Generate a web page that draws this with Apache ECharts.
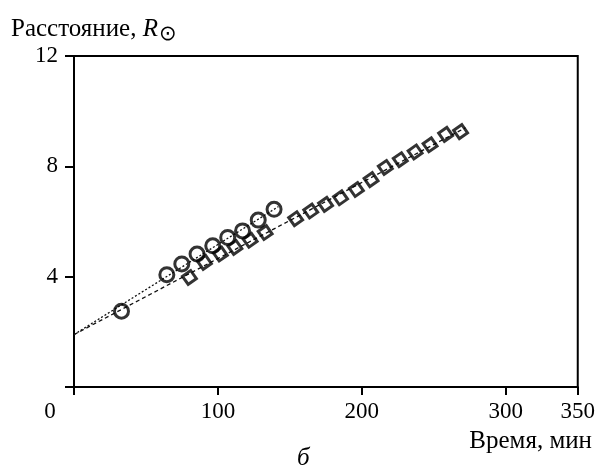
<!DOCTYPE html>
<html>
<head>
<meta charset="utf-8">
<script src="https://cdn.jsdelivr.net/npm/echarts@6/dist/echarts.min.js"></script>
<style>
  html, body { margin: 0; padding: 0; background: #fff; }
  #chart { width: 598px; height: 466px; }
</style>
</head>
<body>
<div id="chart"></div>
<script>
// circles (first group) and diamonds (second group)
const circleX = [33, 64.5, 74.9, 85.5, 96.4, 106.8, 117.1, 128, 139];
const circleY = [2.75, 4.07, 4.46, 4.82, 5.12, 5.42, 5.66, 6.05, 6.44];
const diamondX = [80.2, 90.6, 101.7, 111.8, 122.4, 132.8, 154, 164.5, 174.8, 185.2,
                  196.2, 206.4, 216.3, 226.7, 237, 247.4, 258.2, 268.6];
const diamondY = [3.97, 4.52, 4.82, 5.06, 5.32, 5.6, 6.1, 6.38, 6.62, 6.86,
                  7.16, 7.52, 7.96, 8.24, 8.52, 8.78, 9.16, 9.26];
// fitted lines, end points
const circleFit = [[0, 1.9], [142, 6.54]];
const diamondFit = [[0, 1.9], [272, 9.4]];
const xTicks = [0, 100, 200, 300, 350];
const yTicks = [0, 4, 8, 12];

const font = "'Liberation Serif', 'Times New Roman', serif";
const zip = (xs, ys) => xs.map((x, i) => [x, ys[i]]);

const chart = echarts.init(document.getElementById('chart'));
chart.setOption({
  backgroundColor: '#fff',
  animation: false,
  title: [
    {
      text: 'Расстояние, {i|R}{s|⊙}',
      left: 6,
      top: 9,
      textStyle: {
        fontFamily: font, fontSize: 25, fontWeight: 'normal', color: '#000',
        rich: {
          i: { fontFamily: font, fontSize: 25, fontStyle: 'italic', color: '#000' },
          s: { fontFamily: 'DejaVu Sans', fontSize: 21, color: '#000', padding: [10, 0, 0, 1] }
        }
      }
    },
    {
      text: 'Время, мин',
      right: 1,
      top: 424,
      textStyle: { fontFamily: font, fontSize: 25, fontWeight: 'normal', color: '#000' }
    },
    {
      text: 'б',
      left: 292,
      top: 441,
      textStyle: { fontFamily: font, fontSize: 25, fontStyle: 'italic', fontWeight: 'normal', color: '#000' }
    }
  ],
  grid: {
    left: 74, right: 19, top: 56, bottom: 79,
    show: true, borderColor: '#000', borderWidth: 2
  },
  xAxis: {
    type: 'value',
    min: 0, max: 350,
    axisLine: { lineStyle: { color: '#000', width: 2 } },
    axisTick: { customValues: xTicks, length: 8, lineStyle: { color: '#000', width: 2 } },
    axisLabel: {
      customValues: xTicks,
      margin: 13,
      color: '#000', fontFamily: font, fontSize: 23,
      formatter: v => v === 0 ? '{z|0}' : String(v),
      rich: { z: { fontFamily: font, fontSize: 23, color: '#000', padding: [0, 48, 0, 0] } }
    },
    splitLine: { show: false }
  },
  yAxis: {
    type: 'value',
    min: 0, max: 12, interval: 4,
    axisLine: { lineStyle: { color: '#000', width: 2 } },
    axisTick: { customValues: yTicks, length: 9, lineStyle: { color: '#000', width: 2 } },
    axisLabel: {
      customValues: yTicks.filter(v => v > 0),
      margin: 16,
      color: '#000', fontFamily: font, fontSize: 23
    },
    splitLine: { show: false }
  },
  series: [
    {
      type: 'line',
      data: circleFit,
      symbol: 'none',
      lineStyle: { color: '#111', width: 1.3, type: [2, 2] },
      z: 1
    },
    {
      type: 'line',
      data: diamondFit,
      symbol: 'none',
      lineStyle: { color: '#111', width: 1.3, type: [4, 3] },
      z: 1
    },
    {
      type: 'scatter',
      data: zip(circleX, circleY),
      symbol: 'circle',
      symbolSize: 14,
      itemStyle: { color: 'rgba(0,0,0,0)', borderColor: '#000', borderWidth: 3 },
      z: 3
    },
    {
      type: 'scatter',
      data: zip(diamondX, diamondY),
      symbol: 'rect',
      symbolSize: 10,
      symbolRotate: 35,
      itemStyle: { color: 'rgba(0,0,0,0)', borderColor: '#000', borderWidth: 3 },
      z: 3
    }
  ]
});
</script>
</body>
</html>
